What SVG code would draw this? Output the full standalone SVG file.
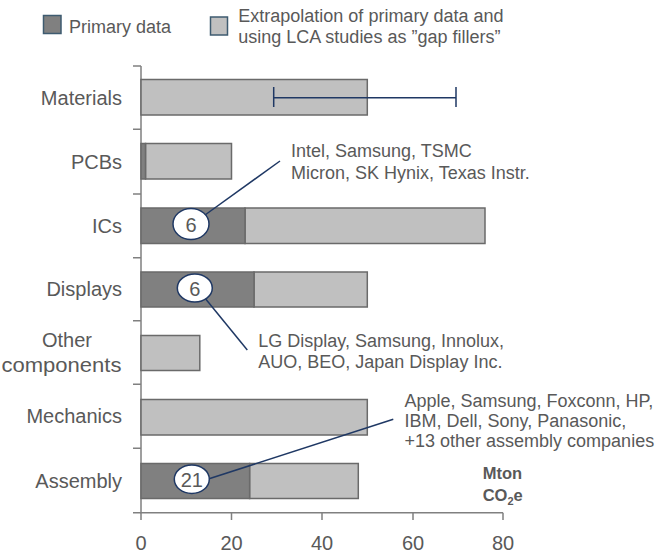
<svg xmlns="http://www.w3.org/2000/svg" width="657" height="554" viewBox="0 0 657 554">
<style>
text{font-family:"Liberation Sans",Arial,sans-serif;fill:#595959}
.cat{font-size:20px;text-anchor:end}
.tick{font-size:20px;text-anchor:middle}
.ann{font-size:18px}
.num{font-size:20px;text-anchor:middle}
.dark{fill:#808080;stroke:#6a6a6a;stroke-width:1.5}
.light{fill:#c0c0c0;stroke:#6a6a6a;stroke-width:1.5}
.axis{stroke:#808080;stroke-width:1.5;fill:none}
.lead{stroke:#1f3864;stroke-width:1.5;fill:none}
.bub{fill:#fff;stroke:#1f3864;stroke-width:1.5}
</style>
<rect width="657" height="554" fill="#fff"/>
<g id="legend">
<rect x="43.5" y="15.5" width="17.5" height="18" fill="#808080" stroke="#3e5b70" stroke-width="1.5"/>
<text class="ann" x="69" y="33.3">Primary data</text>
<rect x="210.5" y="17" width="17" height="18" fill="#c0c0c0" stroke="#3e5b70" stroke-width="1.5"/>
<text class="ann" x="238.3" y="22">Extrapolation of primary data and</text>
<text class="ann" x="238.3" y="42.5">using LCA studies as ”gap fillers”</text>
</g>
<g id="axes">
<path class="axis" d="M141 66V512.7H503"/>
<path class="axis" d="M133 66H141M133 129.3H141M133 194H141M133 257.7H141M133 320.7H141M133 384.3H141M133 448.3H141M133 512.7H141"/>
<path class="axis" d="M141 512.7V520M231.5 512.7V520M322 512.7V520M413 512.7V520M503 512.7V520"/>
<text class="tick" x="141" y="550">0</text>
<text class="tick" x="231.5" y="550">20</text>
<text class="tick" x="322" y="550">40</text>
<text class="tick" x="413" y="550">60</text>
<text class="tick" x="503" y="550">80</text>
<text x="482.7" y="479.3" font-size="16.5" font-weight="bold">Mton</text>
<text x="482.7" y="501" font-size="16.5" font-weight="bold">CO<tspan font-size="11" dy="4">2</tspan><tspan dy="-4">e</tspan></text>
</g>
<g id="materials">
<text class="cat" x="122" y="104.5">Materials</text>
<rect class="light" x="141" y="79.5" width="226.3" height="35.5"/>
<path class="lead" d="M273.7 97.7H456M273.7 87V107M456 87V107"/>
</g>
<g id="pcbs">
<text class="cat" x="122" y="168.7">PCBs</text>
<rect class="light" x="145.5" y="143.5" width="86" height="35.5"/>
<rect class="dark" x="141" y="143.5" width="4.5" height="35.5"/>
</g>
<g id="ics">
<text class="cat" x="122" y="232.8">ICs</text>
<rect class="light" x="245" y="208" width="240" height="35.5"/>
<rect class="dark" x="141" y="208" width="104" height="35.5"/>
</g>
<g id="displays">
<text class="cat" x="122" y="296.3">Displays</text>
<rect class="light" x="254" y="272" width="113.3" height="35"/>
<rect class="dark" x="141" y="272" width="113" height="35"/>
</g>
<g id="other">
<text x="67" y="346.5" font-size="20" text-anchor="middle">Other</text>
<text x="61.5" y="371.5" font-size="20" text-anchor="middle" textLength="120" lengthAdjust="spacingAndGlyphs">components</text>
<rect class="light" x="141" y="335.5" width="58.8" height="35"/>
</g>
<g id="mechanics">
<text class="cat" x="122" y="423.3">Mechanics</text>
<rect class="light" x="141" y="399.5" width="226.3" height="35.5"/>
</g>
<g id="assembly">
<text class="cat" x="122" y="487.5">Assembly</text>
<rect class="light" x="249.6" y="463.5" width="108.7" height="35"/>
<rect class="dark" x="141" y="463.5" width="108.6" height="35"/>
</g>
<g id="connectors">
<line class="lead" x1="280" y1="161" x2="205" y2="215"/>
<line class="lead" x1="205.7" y1="299" x2="247.3" y2="350"/>
<line class="lead" x1="208.3" y1="479" x2="393.3" y2="419.3"/>
</g>
<g id="bubble-ics">
<ellipse class="bub" cx="191" cy="224" rx="18" ry="15.5"/>
<text class="num" x="191" y="231.5">6</text>
</g>
<g id="bubble-displays">
<ellipse class="bub" cx="194.8" cy="288" rx="17.5" ry="14"/>
<text class="num" x="194.8" y="295.5">6</text>
</g>
<g id="bubble-assembly">
<ellipse class="bub" cx="191.8" cy="479.2" rx="17.5" ry="14.2"/>
<text class="num" x="191.8" y="486.7">21</text>
</g>
<g id="ann-ics">
<text class="ann" x="291" y="157">Intel, Samsung, TSMC</text>
<text class="ann" x="291" y="179">Micron, SK Hynix, Texas Instr.</text>
</g>
<g id="ann-displays">
<text class="ann" x="258.3" y="346.5">LG Display, Samsung, Innolux,</text>
<text class="ann" x="258.3" y="368.3">AUO, BEO, Japan Display Inc.</text>
</g>
<g id="ann-assembly">
<text class="ann" x="404.5" y="406.5">Apple, Samsung, Foxconn, HP,</text>
<text class="ann" x="404.5" y="426.5">IBM, Dell, Sony, Panasonic,</text>
<text class="ann" x="404.5" y="446.5">+13 other assembly companies</text>
</g>
</svg>
